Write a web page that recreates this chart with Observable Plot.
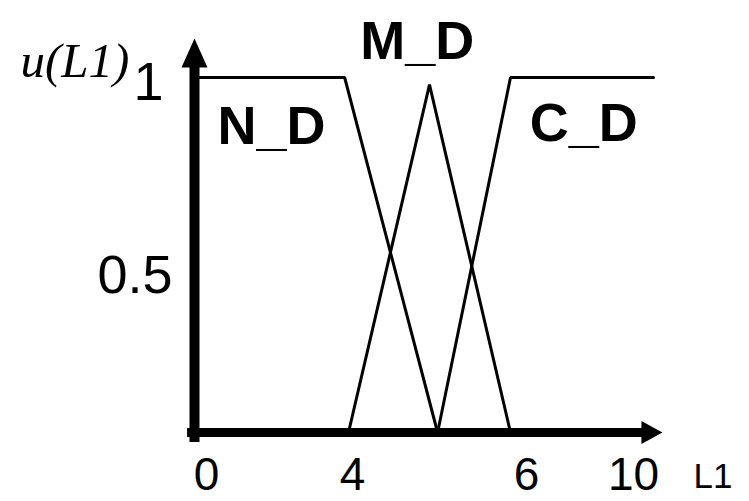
<!DOCTYPE html>
<html>
<head>
<meta charset="utf-8">
<script src="https://cdn.jsdelivr.net/npm/d3@7"></script>
<script src="https://cdn.jsdelivr.net/npm/@observablehq/plot@0.6"></script>
<style>
  html, body { margin: 0; padding: 0; background: #fff; }
  svg { display: block; }
</style>
</head>
<body>
<div id="chart"></div>
<script>
// ---- data ----
const setNames = ["N_D", "M_D", "C_D"];
const nD_x = [0, 0, 3.9, 5.1];
const nD_y = [0, 1, 1, 0];
const mD_x = [4, 5, 6];
const mD_y = [0, 0.98, 0];
const cD_x = [5.1, 6, 10];
const cD_y = [0, 1, 1];
const labelX = [2, 4.85, 8.05];
const labelY = [0.86, 1.10, 0.87];
const xTicks = [0, 4, 6, 10];
const yTicks = [0.5, 1];
const xName = "L1";
const yName = "u(L1)";

// ---- table built from the arrays ----
const series = [[nD_x, nD_y], [mD_x, mD_y], [cD_x, cD_y]];
const pts = series.flatMap(([xs, ys], i) => xs.map((x, j) => ({set: setNames[i], x, y: ys[j]})));
const labels = setNames.map((name, i) => ({name, x: labelX[i], y: labelY[i]}));

const upHead = {draw(ctx) { ctx.moveTo(0, 0); ctx.lineTo(-13, 29); ctx.lineTo(13, 29); ctx.closePath(); }};
const rightHead = {draw(ctx) { ctx.moveTo(0, 0); ctx.lineTo(-11.5, 21); ctx.lineTo(11.5, 21); ctx.closePath(); }};

const sans = "'Liberation Sans', Arial, sans-serif";
const xTickStyle = {fontFamily: sans, fontSize: 46, fill: "#000"};
const yTickStyle = {fontFamily: sans, fontSize: 54, fill: "#000"};
const xTickDx = [12, 4, 16, -20];
const yTickDx = [-22, -31];
const yTickDy = [21, 5];

const chart = Plot.plot({
  width: 749,
  height: 501,
  marginTop: 0, marginRight: 0, marginBottom: 0, marginLeft: 0,
  x: {type: "linear", domain: [0, 4, 6, 10], range: [194, 348, 510, 653], axis: null},
  y: {type: "linear", domain: [0, 1], range: [432, 77], axis: null},
  style: {background: "#fff", color: "#000"},
  marks: [
    // axes
    Plot.ruleX([0], {y1: -0.028, y2: 1.03, stroke: "#000", strokeWidth: 10}),
    Plot.ruleY([0], {x1: -0.18, x2: 9.8, stroke: "#000", strokeWidth: 9}),
    Plot.dot([0], {x: 0, y: 1.11, symbol: upHead, fill: "#000", stroke: null}),
    Plot.dot([0], {x: 10.25, y: 0, symbol: rightHead, rotate: 90, fill: "#000", stroke: null}),
    // membership functions
    Plot.line(pts, {x: "x", y: "y", z: "set", stroke: "#000", strokeWidth: 3, strokeLinejoin: "miter"}),
    // set labels
    Plot.text(labels, {x: "x", y: "y", text: "name", fontFamily: sans,
      fontWeight: "bold", fontSize: 54, fill: "#000"}),
    // x tick labels
    ...xTicks.map((t, i) => Plot.text([t], {x: d => d, y: 0, text: d => String(d), ...xTickStyle,
      lineAnchor: "top", dy: 25, dx: xTickDx[i]})),
    // y tick labels
    ...yTicks.map((t, i) => Plot.text([t], {x: 0, y: d => d, text: d => String(d), ...yTickStyle,
      textAnchor: "end", dx: yTickDx[i], dy: yTickDy[i]})),
    // axis names
    Plot.text([xName], {frameAnchor: "top-left", text: d => d, textAnchor: "start", lineAnchor: "top",
      dx: 693, dy: 463, fontFamily: sans, fontSize: 35, fill: "#000"}),
    Plot.text([yName], {frameAnchor: "top-left", text: d => d, textAnchor: "start", lineAnchor: "top",
      dx: 20, dy: 42, fontFamily: "'Liberation Serif', 'DejaVu Serif', serif", fontStyle: "italic",
      fontSize: 49, fill: "#000"})
  ]
});
document.getElementById("chart").appendChild(chart);
</script>
</body>
</html>
